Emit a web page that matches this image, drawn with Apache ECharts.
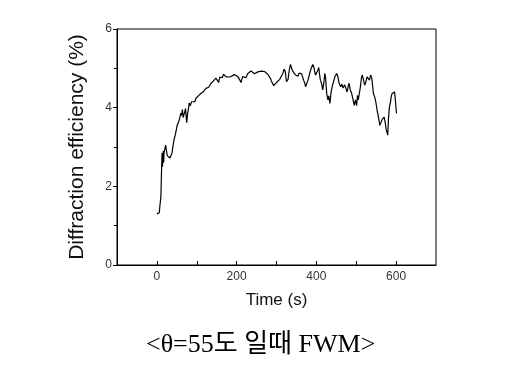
<!DOCTYPE html>
<html>
<head>
<meta charset="utf-8">
<script src="https://cdn.jsdelivr.net/npm/echarts@6/dist/echarts.min.js"></script>
<style>
  html, body { margin: 0; padding: 0; background: #fff; }
  #main { width: 506px; height: 370px; }
</style>
</head>
<body>
<div id="main"></div>
<script>
// 시간 (s)
var times = [
    0, 3, 6, 8, 10, 11, 12, 13, 14, 15,
    16, 17, 18, 20, 22, 24, 26, 28, 30, 33,
    35, 38, 40, 43, 46, 49, 51, 54, 57, 60,
    62, 64, 66, 68, 70, 72, 74, 75, 77, 79,
    81, 84, 87, 89, 92, 95, 98, 101, 104, 107,
    110, 113, 116, 120, 123, 126, 130, 133, 136, 139,
    142, 145, 148, 151, 153, 155, 158, 161, 164, 167,
    170, 173, 176, 180, 183, 186, 190, 194, 198, 203,
    207, 211, 213, 215, 219, 223, 228, 232, 236, 241,
    245, 249, 253, 257, 262, 266, 270, 274, 278, 282,
    285, 287, 290, 293, 295, 298, 302, 305, 308, 312,
    316, 319, 322, 325, 329, 332, 335, 338, 341, 344,
    348, 351, 354, 357, 360, 363, 365, 368, 371, 373,
    376, 379, 381, 384, 387, 391, 394, 396, 398, 401,
    404, 406, 408, 410, 413, 416, 419, 421, 423, 426,
    429, 431, 434, 437, 440, 444, 447, 451, 454, 457,
    461, 464, 467, 471, 474, 477, 480, 482, 485, 488,
    491, 495, 498, 501, 503, 505, 507, 510, 513, 515,
    518, 521, 524, 527, 530, 533, 536, 539, 543, 546,
    549, 553, 556, 559, 562, 565, 568, 570, 573, 575,
    577, 579, 581, 583, 586, 588, 590, 593, 596, 598,
    601
];
// 회절 효율 (%)
var efficiency = [
    1.30, 1.28, 1.33, 1.55, 1.72, 2.10, 2.55, 2.85, 2.50, 2.70,
    2.90, 2.60, 2.85, 2.95, 3.05, 2.90, 2.78, 2.82, 2.75, 2.72,
    2.70, 2.85, 3.00, 3.18, 3.30, 3.45, 3.56, 3.62, 3.72, 3.86,
    3.80, 3.95, 3.75, 3.70, 3.90, 3.98, 3.70, 3.62, 3.85, 3.95,
    4.12, 4.05, 4.15, 4.10, 4.18, 4.15, 4.24, 4.22, 4.30, 4.28,
    4.36, 4.33, 4.40, 4.45, 4.49, 4.45, 4.52, 4.55, 4.62, 4.58,
    4.68, 4.66, 4.75, 4.79, 4.70, 4.64, 4.78, 4.83, 4.76, 4.85,
    4.80, 4.79, 4.82, 4.78, 4.83, 4.79, 4.81, 4.84, 4.80, 4.79,
    4.72, 4.64, 4.66, 4.79, 4.80, 4.76, 4.87, 4.84, 4.93, 4.88,
    4.86, 4.90, 4.91, 4.86, 4.93, 4.88, 4.92, 4.89, 4.85, 4.80,
    4.74, 4.68, 4.62, 4.56, 4.52, 4.60, 4.66, 4.64, 4.72, 4.70,
    4.87, 4.98, 4.92, 4.66, 4.72, 4.95, 5.10, 5.00, 4.92, 4.96,
    4.83, 4.86, 4.80, 4.88, 4.92, 4.86, 4.87, 4.70, 4.62, 4.53,
    4.58, 4.70, 4.75, 4.90, 5.00, 5.10, 5.02, 4.90, 4.83, 4.88,
    4.96, 5.02, 4.85, 4.70, 4.62, 4.45, 4.65, 4.87, 4.78, 4.35,
    4.20, 4.30, 4.11, 4.40, 4.55, 4.70, 4.80, 4.87, 4.78, 4.62,
    4.53, 4.60, 4.50, 4.58, 4.49, 4.40, 4.55, 4.62, 4.45, 4.38,
    4.25, 4.06, 4.20, 4.05, 4.31, 4.20, 4.15, 4.50, 4.75, 4.83,
    4.72, 4.57, 4.65, 4.78, 4.83, 4.70, 4.83, 4.75, 4.36, 4.28,
    4.15, 3.89, 3.75, 3.55, 3.59, 3.70, 3.65, 3.76, 3.60, 3.45,
    3.37, 3.30, 3.75, 4.00, 4.15, 4.30, 4.36, 4.32, 4.40, 4.20,
    3.85
];
var xLabels = [0, 200, 400, 600];
var xTickValues = [0, 100, 200, 300, 400, 500, 600];

var myChart = echarts.init(document.getElementById('main'));

var points = [];
for (var i = 0; i < times.length; i++) {
    points.push([times[i], efficiency[i]]);
}

var option = {
    backgroundColor: '#fff',
    animation: false,
    title: {
        text: '<θ=55도 일때 FWM>',
        left: 146,
        top: 332,
        padding: 0,
        textStyle: {
            fontFamily: 'Liberation Serif, Noto Sans CJK KR',
            fontSize: 26,
            fontWeight: 'normal',
            color: '#000'
        }
    },
    grid: {
        left: 117,
        right: 70,
        top: 29,
        bottom: 105,
        show: true,
        borderColor: '#000',
        borderWidth: 1
    },
    xAxis: {
        type: 'value',
        min: -100,
        max: 700,
        name: 'Time (s)',
        nameLocation: 'middle',
        nameGap: 27,
        nameTextStyle: { fontFamily: 'Liberation Sans', fontSize: 17, color: '#111' },
        axisLine: { onZero: false, lineStyle: { color: '#000' } },
        axisTick: { inside: true, length: 4, customValues: xTickValues, lineStyle: { color: '#000' } },
        axisLabel: {
            fontFamily: 'Liberation Sans',
            fontSize: 12,
            color: '#333',
            margin: 6,
            customValues: xLabels
        },
        splitLine: { show: false }
    },
    yAxis: {
        type: 'value',
        min: 0,
        max: 6,
        interval: 2,
        name: 'Diffraction efficiency (%)',
        nameLocation: 'middle',
        nameGap: 29,
        nameTextStyle: { fontFamily: 'Liberation Sans', fontSize: 21, color: '#111' },
        axisLine: { onZero: false, lineStyle: { color: '#000' } },
        axisTick: { inside: false, length: 4, lineStyle: { color: '#000' } },
        minorTick: { show: true, splitNumber: 2, length: 3, lineStyle: { color: '#000' } },
        axisLabel: {
            fontFamily: 'Liberation Sans',
            fontSize: 12,
            color: '#333',
            margin: 5
        },
        splitLine: { show: false }
    },
    series: [{
        type: 'line',
        data: points,
        showSymbol: false,
        lineStyle: { color: '#000', width: 1.2 }
    }]
};
myChart.setOption(option);
</script>
</body>
</html>
